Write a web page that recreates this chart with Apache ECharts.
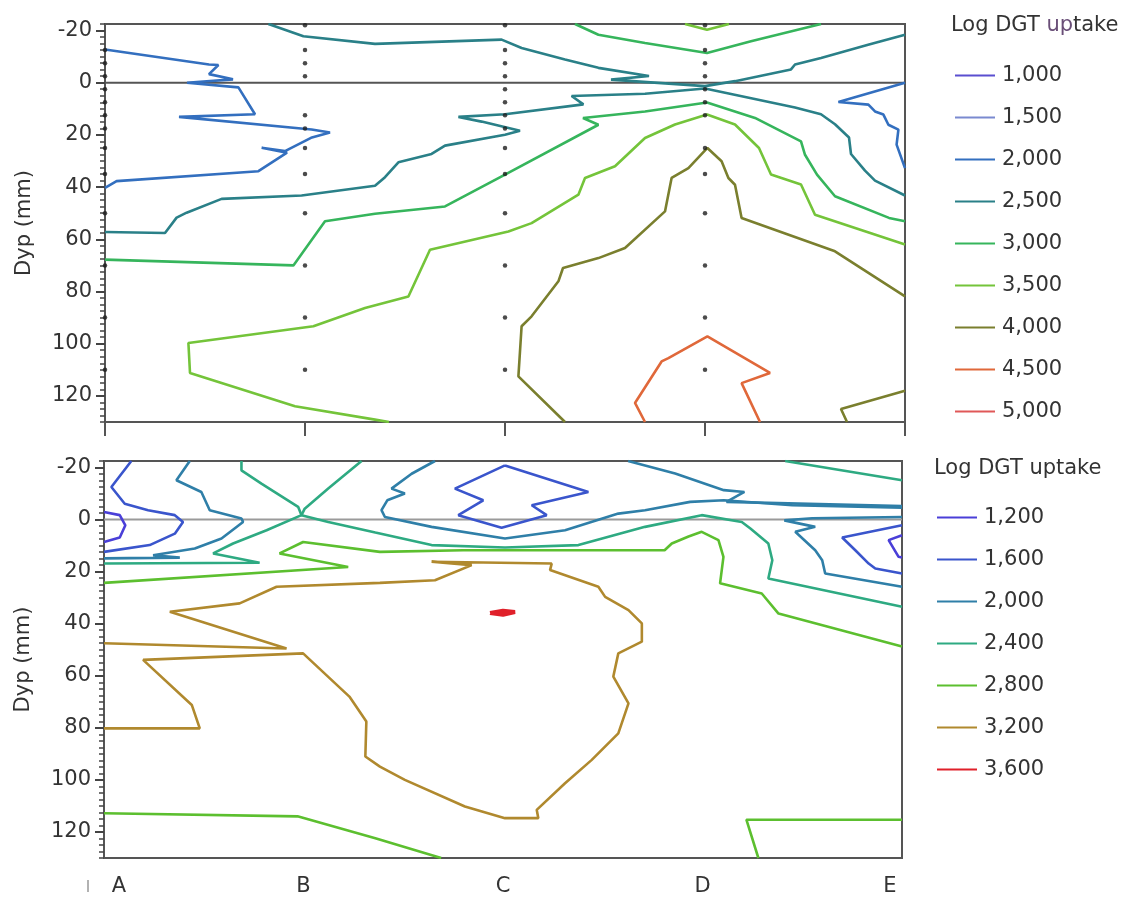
<!DOCTYPE html>
<html>
<head>
<meta charset="utf-8">
<script src="https://cdn.jsdelivr.net/npm/echarts@6/dist/echarts.min.js"></script>
<style>
  html, body { margin: 0; padding: 0; background: #fff; }
  #chart { width: 1129px; height: 902px; }
</style>
</head>
<body>
<div id="chart"></div>
<script>
// Stations along the transect (x axis) and depth tick labels (mm, positive downwards)
const stations = ['A', 'B', 'C', 'D', 'E'];
const depthTicks = [-20, 0, 20, 40, 60, 80, 100, 120];
const depthRange = [-22.5, 130];

// Contour levels of each panel
const topLevels = ['1,000', '1,500', '2,000', '2,500', '3,000', '3,500', '4,000', '4,500', '5,000'];
const bottomLevels = ['1,200', '1,600', '2,000', '2,400', '2,800', '3,200', '3,600'];

// Sampling depths (mm) of the probes in the upper panel, per station
const samplesA = [-12.5, -7.5, -2.5, 2.5, 7.5, 12.5, 17.5, 25, 35, 50, 70, 90, 110];
const samplesB = [-22, -12.5, -7.5, -2.5, 12.5, 17.5, 25, 35, 50, 70, 90, 110];
const samplesC = [-22, -12.5, -7.5, -2.5, 2.5, 7.5, 12.5, 17.5, 25, 35, 50, 70, 90, 110];
const samplesD = [-22, -12.5, -7.5, -2.5, 2.5, 7.5, 12.5, 25, 35, 50, 70, 90, 110];

// Sediment-water interface
const interfaceLine = [[0, 0], [4, 0]];

// ---- Upper panel contour polylines: [station position, depth mm] ----
const top2000a = [[0,-12.7],[0.52,-7.0],[0.567,-6.8],[0.52,-3.3],[0.64,-1.3],[0.41,0],[0.667,1.8],[0.75,12.1],[0.37,13.1],[1.033,17.9],[1.125,19.1],[1.03,21.1],[0.9,26.2],[0.783,24.9],[0.91,26.8],[0.767,33.9],[0.058,37.7],[0,40.3]];
const top2000b = [[4,0],[3.667,7.4],[3.817,8.4],[3.85,11],[3.892,12.2],[3.917,16.1],[3.967,18],[3.958,23.7],[4,32.7]];
const top2500a = [[0,57.2],[0.3,57.6],[0.358,51.7],[0.408,49.8],[0.583,44.5],[0.983,43.2],[1.35,39.5],[1.4,36.2],[1.467,30.5],[1.633,27.3],[1.7,24.1],[2.0,19.9],[2.075,18.4],[1.883,14.9],[1.767,13.1],[2.0,12.1],[2.392,8.3],[2.333,5.1],[2.7,4.2],[3.0,2.2],[3.45,9.5],[3.58,12.1],[3.65,15.9],[3.72,21],[3.73,27.3],[3.8,33.7],[3.85,37.5],[4,43.2]];
const top2500b = [[0.817,-22.5],[0.992,-17.8],[1.35,-14.9],[1.983,-16.5],[2.083,-13.3],[2.3,-8.9],[2.467,-5.7],[2.72,-2.6],[2.53,-1.2],[3.0,1.3],[3.15,-0.6],[3.43,-5.1],[3.45,-7],[3.58,-9.5],[3.82,-14.6],[4,-18.4]];
const top3000a = [[2.35,-22.5],[2.467,-18.4],[2.7,-15.2],[3.01,-11.4],[3.23,-15.9],[3.58,-22.5]];
const top3000b = [[0,67.8],[0.942,70],[1.1,53.1],[1.35,50.2],[1.7,47.4],[2.0,35.2],[2.467,16.1],[2.39,13.5],[2.7,11],[3.01,7.6],[3.25,13.5],[3.48,22.5],[3.5,27.6],[3.56,35.2],[3.65,43.5],[3.92,51.8],[4,53.1]];
const top3500a = [[2.9,-22.5],[3.01,-20.3],[3.12,-22.5]];
const top3500b = [[1.42,130],[1.35,129.1],[0.95,124],[0.425,111.2],[0.417,99.7],[1.042,93.3],[1.3,86.3],[1.517,81.9],[1.625,64],[2.017,57],[2.133,53.8],[2.367,42.9],[2.4,36.5],[2.55,32],[2.7,21.2],[2.85,16],[3.01,12.2],[3.15,16],[3.27,25],[3.33,35.2],[3.48,39],[3.55,50.6],[4,62]];
const top4000a = [[2.3,130],[2.067,112.5],[2.083,93.3],[2.133,89.5],[2.267,76.1],[2.29,71],[2.467,67.2],[2.6,63.3],[2.8,49.3],[2.833,36.5],[2.917,32.7],[3.012,25.0],[3.083,30.1],[3.117,36.5],[3.15,39.1],[3.183,51.8],[3.65,64.6],[4,81.9]];
const top4000b = [[3.71,130],[3.68,125],[4,118]];
const top4500a = [[2.7,130],[2.65,122.7],[2.783,106.8],[2.817,105.5],[3.012,97.2],[3.325,111.2],[3.183,115.1],[3.275,130]];

// ---- Lower panel contour polylines ----
const bot1200a = [[0,-2.9],[0.079,-1.7],[0.107,2.2],[0.079,6.9],[0,8.6]];
const bot1200b = [[4,6.0],[3.933,7.9],[3.983,14.3],[4,14.6]];
const bot1600a = [[0.137,-22.5],[0.037,-12.5],[0.104,-6.1],[0.221,-3.6],[0.355,-1.7],[0.396,0.9],[0.355,5.4],[0.229,9.8],[0,12.4]];
const bot1600b = [[2.01,-20.8],[2.428,-10.6],[2.144,-5.5],[2.219,-1.7],[1.993,3.1],[1.776,-1.7],[1.901,-7.4],[1.759,-11.9],[2.01,-20.8]];
const bot1600c = [[4,2.2],[3.7,6.9],[3.766,11.8],[3.833,16.9],[3.866,18.8],[4,20.7]];
const bot2000a = [[0.43,-22.5],[0.363,-15.1],[0.488,-10.6],[0.53,-3.6],[0.689,-0.4],[0.697,0.9],[0.589,7.3],[0.455,11.1],[0.246,13.7],[0.38,14.6],[0,14.9]];
const bot2000b = [[1.659,-22.5],[1.542,-17.6],[1.441,-11.9],[1.508,-10],[1.42,-7.4],[1.391,-3.6],[1.408,-1],[1.642,2.8],[2.01,7.3],[2.311,4.1],[2.578,-2.3],[2.712,-3.6],[2.938,-6.8],[3.107,-7.4],[3.45,-5.5],[4,-4.6]];
const bot2000c = [[2.627,-22.5],[2.863,-17.7],[3.107,-11.3],[3.21,-10.6],[3.12,-6.8],[4,-5.2]];
const bot2000d = [[4,-1.0],[3.55,-0.5],[3.41,0.3],[3.565,2.8],[3.465,4.7],[3.565,11.8],[3.6,15.6],[3.615,20.7],[4,25.8]];
const bot2400a = [[0.689,-22.5],[0.689,-18.9],[0.789,-13.8],[0.973,-4.9],[0.99,-1.7],[0.815,4.1],[0.647,9.2],[0.547,13.0],[0.78,16.6],[0,16.9]];
const bot2400b = [[1.291,-22.5],[1.124,-11.9],[1.006,-4.2],[0.99,-1.7],[1.124,0.9],[1.36,5],[1.642,9.8],[2.01,10.7],[2.378,9.8],[2.712,2.8],[2.996,-1.7],[3.197,0.9],[3.24,3.4],[3.33,9.2],[3.35,15.6],[3.33,22.6],[4,33.5]];
const bot2400c = [[3.414,-22.5],[4,-15.1]];
const bot2800a = [[0,24.3],[1.224,18.2],[0.88,13],[0.998,8.6],[1.383,12.4],[1.8,11.8],[2.81,11.8],[2.846,9.2],[2.93,6.5],[2.996,4.7],[3.08,7.9],[3.105,14.3],[3.088,24.5],[3.297,28.4],[3.381,36.1],[4,48.8]];
const bot2800b = [[0,112.8],[0.97,114],[1.36,122.4],[1.69,130]];
const bot2800c = [[4,115.3],[3.22,115.3],[3.28,130]];
const bot3200a = [[0,47.5],[0.915,49.5],[0.33,35.4],[0.68,32.2],[0.865,25.8],[1.383,24.3],[1.659,23.3],[1.843,17.5],[1.642,16.2],[2.244,16.9],[2.236,19.4],[2.478,25.8],[2.512,29.7],[2.629,34.8],[2.696,39.9],[2.696,46.9],[2.578,51.4],[2.553,60.3],[2.629,70.6],[2.578,82.1],[2.445,92.3],[2.311,101.3],[2.169,111.5],[2.177,114.7],[2.01,114.7],[1.809,110.2],[1.508,100],[1.383,94.9],[1.31,91.0],[1.315,77.6],[1.23,68.0],[0.998,51.4],[0.196,53.9],[0.44,71.2],[0.48,80.2],[0,80.2]];
const bot3600a = [[1.935,35.9],[2.0,35.0],[2.06,35.5],[2.0,36.6],[1.935,35.9]];

const topContours = [
  { level: '2,000', pts: top2000a }, { level: '2,000', pts: top2000b },
  { level: '2,500', pts: top2500a }, { level: '2,500', pts: top2500b },
  { level: '3,000', pts: top3000a }, { level: '3,000', pts: top3000b },
  { level: '3,500', pts: top3500a }, { level: '3,500', pts: top3500b },
  { level: '4,000', pts: top4000a }, { level: '4,000', pts: top4000b },
  { level: '4,500', pts: top4500a }
];
const bottomContours = [
  { level: '1,200', pts: bot1200a }, { level: '1,200', pts: bot1200b },
  { level: '1,600', pts: bot1600a }, { level: '1,600', pts: bot1600b }, { level: '1,600', pts: bot1600c },
  { level: '2,000', pts: bot2000a }, { level: '2,000', pts: bot2000b }, { level: '2,000', pts: bot2000c }, { level: '2,000', pts: bot2000d },
  { level: '2,400', pts: bot2400a }, { level: '2,400', pts: bot2400b }, { level: '2,400', pts: bot2400c },
  { level: '2,800', pts: bot2800a }, { level: '2,800', pts: bot2800b }, { level: '2,800', pts: bot2800c },
  { level: '3,200', pts: bot3200a },
  { level: '3,600', pts: bot3600a }
];

// ---- Styling ----
const topColors = {
  '1,000': '#5a4fd0', '1,500': '#7a8ad0', '2,000': '#336fbf', '2,500': '#2a8088',
  '3,000': '#36b55c', '3,500': '#74c43a', '4,000': '#7a7f2e', '4,500': '#e0683a', '5,000': '#e05858'
};
const bottomColors = {
  '1,200': '#4a3fd8', '1,600': '#3a55cc', '2,000': '#2f7fa8', '2,400': '#2eaa82',
  '2,800': '#5cbf2f', '3,200': '#b0892e', '3,600': '#e0202a'
};
const FONT = 'DejaVu Sans';
const AXIS = '#555';
const TEXT = '#333';

function contourSeries(prefix, contours, levels, colors, axisIdx) {
  const out = [];
  // one (possibly empty) series per level so every level appears in its legend
  levels.forEach(lv => {
    const lines = contours.filter(c => c.level === lv);
    const base = {
      type: 'line', name: prefix + lv, xAxisIndex: axisIdx, yAxisIndex: axisIdx * 2,
      symbol: 'none', smooth: false, silent: true, animation: false, z: 3,
      lineStyle: { color: colors[lv], width: lv === '3,600' ? 4 : 2.6 }, itemStyle: { color: colors[lv] }
    };
    if (!lines.length) out.push(Object.assign({}, base, { data: [] }));
    lines.forEach(c => out.push(Object.assign({}, base, { data: c.pts })));
  });
  return out;
}

function minorTicks(range, step) {
  const t = [];
  for (let v = range[0]; v <= range[1] + 1e-9; v += step) t.push(+v.toFixed(3));
  return t;
}

function yAxes(gridIndex) {
  return [{
    gridIndex, type: 'value', position: 'left', inverse: true, min: depthRange[0], max: depthRange[1],
    axisLine: { show: true, onZero: false, lineStyle: { color: AXIS, width: 2 } },
    axisTick: { show: true, customValues: depthTicks, length: 9, lineStyle: { color: '#444', width: 2 } },
    axisLabel: { customValues: depthTicks, fontFamily: FONT, fontSize: 21, color: TEXT, margin: 13 },
    splitLine: { show: false },
    name: 'Dyp (mm)', nameLocation: 'middle', nameGap: 70, nameRotate: 90,
    nameTextStyle: { fontFamily: FONT, fontSize: 21, color: TEXT }
  }, {
    gridIndex, type: 'value', position: 'left', offset: 0, inverse: true, min: depthRange[0], max: depthRange[1],
    axisLine: { show: false, onZero: false }, axisLabel: { show: false }, splitLine: { show: false },
    axisTick: { show: true, customValues: minorTicks(depthRange, 2.5), length: 5, lineStyle: { color: '#444', width: 1.5 } }
  }];
}

const sampleData = [];
[samplesA, samplesB, samplesC, samplesD].forEach((arr, i) => arr.forEach(d => sampleData.push([i, d])));

const series = []
  .concat([{
    type: 'line', name: 'interface-top', data: interfaceLine, xAxisIndex: 0, yAxisIndex: 0,
    symbol: 'none', silent: true, animation: false, z: 2, lineStyle: { color: '#555', width: 2 }
  }, {
    type: 'line', name: 'interface-bottom', data: interfaceLine, xAxisIndex: 1, yAxisIndex: 2,
    symbol: 'none', silent: true, animation: false, z: 2, lineStyle: { color: '#9a9a9a', width: 2 }
  }])
  .concat(contourSeries('t', topContours, topLevels, topColors, 0))
  .concat(contourSeries('b', bottomContours, bottomLevels, bottomColors, 1))
  .concat([{
    type: 'scatter', name: 'samples', data: sampleData, xAxisIndex: 0, yAxisIndex: 0,
    symbol: 'circle', symbolSize: 4.5, itemStyle: { color: '#1e1e1e' }, silent: true, animation: false, z: 5
  }]);

function legendFor(prefix, levels, left, top) {
  return {
    data: levels.map(l => ({ name: prefix + l, icon: 'rect' })),
    formatter: n => n.slice(prefix.length),
    orient: 'vertical', left, top, selectedMode: false,
    itemWidth: 40, itemHeight: 2, itemGap: 15,
    textStyle: { fontFamily: FONT, fontSize: 21, color: TEXT, lineHeight: 20, padding: [7, 0, 0, 2] }
  };
}

const chart = echarts.init(document.getElementById('chart'), null, { renderer: 'canvas' });
chart.setOption({
  backgroundColor: '#fff',
  animation: false,
  title: [{
    text: '{a|Log DGT }{b|up}{a|take}', left: 946, top: 10,
    textStyle: { fontWeight: 'normal', rich: {
      a: { fontFamily: FONT, fontSize: 21, fontWeight: 'normal', color: TEXT },
      b: { fontFamily: FONT, fontSize: 21, fontWeight: 'normal', color: '#6a4f78' }
    } }
  }, {
    text: 'Log DGT uptake', left: 929, top: 453,
    textStyle: { fontFamily: FONT, fontSize: 21, fontWeight: 'normal', color: TEXT }
  }],
  legend: [legendFor('t', topLevels, 950, 57), legendFor('b', bottomLevels, 932, 499)],
  grid: [
    { left: 105, top: 24, width: 800, height: 398, show: true, borderColor: AXIS, borderWidth: 2 },
    { left: 104, top: 461, width: 798, height: 397, show: true, borderColor: AXIS, borderWidth: 2 }
  ],
  xAxis: [{
    gridIndex: 0, type: 'value', position: 'bottom', min: 0, max: 4, interval: 1,
    axisLine: { show: true, onZero: false, lineStyle: { color: AXIS, width: 2 } },
    axisTick: { show: true, length: 14, lineStyle: { color: AXIS, width: 2 } },
    axisLabel: { show: false }, splitLine: { show: false }
  }, {
    gridIndex: 1, type: 'value', position: 'bottom', min: 0, max: 4, interval: 1,
    axisLine: { show: true, onZero: false, lineStyle: { color: AXIS, width: 2 } },
    axisTick: { show: false }, splitLine: { show: false },
    axisLabel: {
      margin: 18, fontFamily: FONT, fontSize: 21, color: TEXT,
      formatter: v => v === 0 ? '{first|A}' : v === 4 ? '{last|E}' : stations[v],
      rich: {
        first: { fontFamily: FONT, fontSize: 21, color: TEXT, padding: [0, 0, 0, 30] },
        last: { fontFamily: FONT, fontSize: 21, color: TEXT, padding: [0, 24, 0, 0] }
      }
    }
  }],
  yAxis: yAxes(0).concat(yAxes(1)),
  graphic: [{
    type: 'line', shape: { x1: 88, y1: 880, x2: 88, y2: 892 },
    style: { stroke: '#999', lineWidth: 1.5 }
  }],
  series
});
</script>
</body>
</html>
